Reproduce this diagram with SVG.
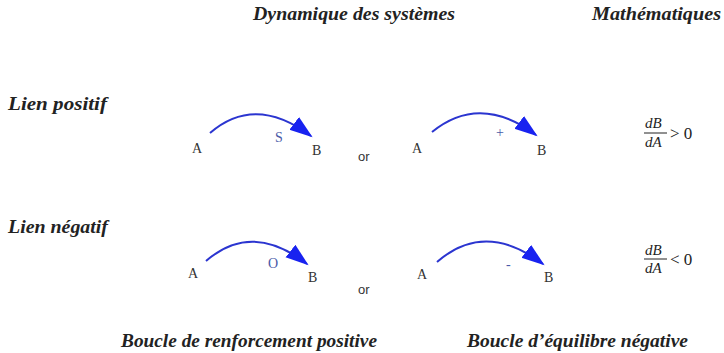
<svg xmlns="http://www.w3.org/2000/svg" width="724" height="353" viewBox="0 0 724 353">
<style>
.h{font-family:"Liberation Serif",serif;font-weight:bold;font-style:italic;font-size:18px;fill:#222}
.n{font-family:"Liberation Serif",serif;font-size:14px;fill:#333}
.l{font-family:"Liberation Serif",serif;font-size:14px;fill:#4a5aa8}
.or{font-family:"Liberation Sans",sans-serif;font-size:13px;fill:#333}
.m{font-family:"Liberation Serif",serif;font-style:italic;font-size:15px;fill:#222}
.m2{font-family:"Liberation Serif",serif;font-size:17px;fill:#222}
.arc{fill:none;stroke:#2b35d0;stroke-width:2}
</style>
<defs>
<marker id="ah" markerUnits="userSpaceOnUse" markerWidth="26" markerHeight="18" refX="21" refY="8" orient="auto">
<path d="M0,0 L23,8 L0,16 Z" fill="#1822f0"/>
</marker>
</defs>
<g id="headers">
<text class="h" x="253" y="20" textLength="202" lengthAdjust="spacingAndGlyphs">Dynamique des systèmes</text>
<text class="h" x="592" y="20" textLength="129" lengthAdjust="spacingAndGlyphs">Mathématiques</text>
<text class="h" x="8" y="110" textLength="99" lengthAdjust="spacingAndGlyphs">Lien positif</text>
<text class="h" x="8" y="233" textLength="100" lengthAdjust="spacingAndGlyphs">Lien négatif</text>
<text class="h" x="121" y="347" textLength="256" lengthAdjust="spacingAndGlyphs">Boucle de renforcement positive</text>
<text class="h" x="467" y="347" textLength="221" lengthAdjust="spacingAndGlyphs">Boucle d’équilibre négative</text>
</g>
<g id="connectors">
<path class="arc" d="M210,133 Q255,94 311,136" marker-end="url(#ah)"/>
<path class="arc" d="M432,132 Q480,93 536,135" marker-end="url(#ah)"/>
<path class="arc" d="M206,261 Q252,221 307,264" marker-end="url(#ah)"/>
<path class="arc" d="M437,262 Q485,220 543,264" marker-end="url(#ah)"/>
</g>
<g id="row1-left">
<text class="n" x="192" y="153">A</text>
<text class="n" x="312" y="155">B</text>
<text class="l" x="275" y="142">S</text>
</g>
<text class="or" x="358" y="161">or</text>
<g id="row1-right">
<text class="n" x="412" y="153">A</text>
<text class="n" x="537" y="155">B</text>
<text class="l" x="496" y="137">+</text>
</g>
<g id="row2-left">
<text class="n" x="188" y="278">A</text>
<text class="n" x="308" y="282">B</text>
<text class="l" x="268" y="268">O</text>
</g>
<text class="or" x="358" y="294">or</text>
<g id="row2-right">
<text class="n" x="417" y="279">A</text>
<text class="n" x="544" y="282">B</text>
<text class="l" x="506" y="269">-</text>
</g>
<g id="math1">
<text class="m" x="645" y="128">dB</text>
<line x1="644" y1="133" x2="667" y2="133" stroke="#222" stroke-width="1"/>
<text class="m" x="645" y="147">dA</text>
<text class="m2" x="670" y="139">&gt; 0</text>
</g>
<g id="math2">
<text class="m" x="645" y="255">dB</text>
<line x1="644" y1="259" x2="667" y2="259" stroke="#222" stroke-width="1"/>
<text class="m" x="645" y="273">dA</text>
<text class="m2" x="670" y="265">&lt; 0</text>
</g>
</svg>
